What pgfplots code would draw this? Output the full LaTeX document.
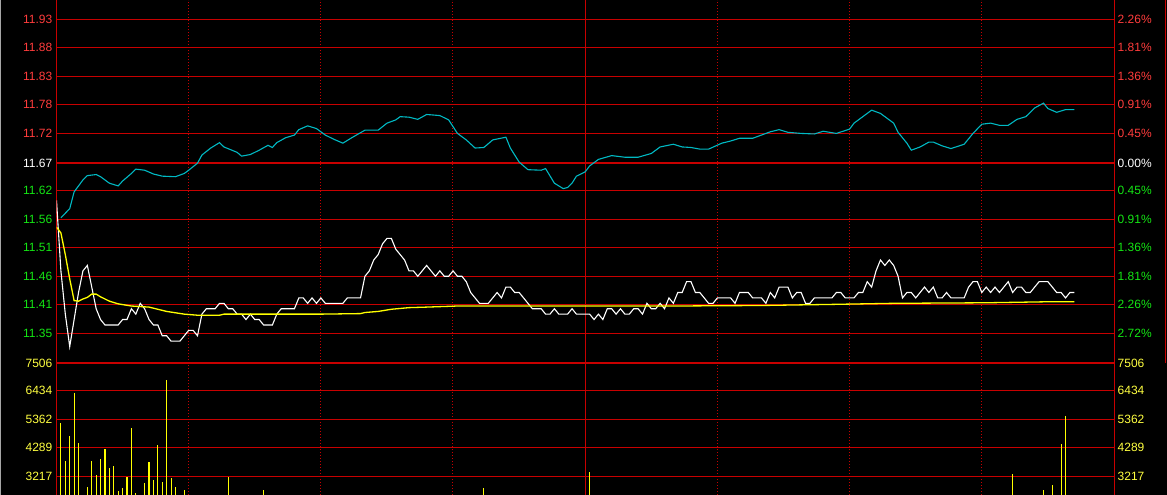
\documentclass[border=0pt]{standalone}
\usepackage{pgfplots}
\pgfplotsset{compat=1.18}
\usepackage{fontspec}
\setmainfont{Liberation Sans}
\definecolor{gridred}{RGB}{200,0,0}
\definecolor{lblred}{RGB}{255,60,60}
\definecolor{lblgreen}{RGB}{20,230,20}
\definecolor{lblyellow}{RGB}{255,255,64}
\definecolor{cyanline}{RGB}{0,185,195}
\definecolor{avgyellow}{RGB}{255,255,0}
\newcommand{\labfont}{\fontsize{12}{14}\selectfont}
% label pair at image pixel row #1
\newcommand{\lbl}[4]{%
 \node[anchor=east,inner sep=0pt,text=#3,font=\labfont] at (52.5pt,{494.5pt-#1pt}) {#2};%
 \node[anchor=west,inner sep=0pt,text=#3,font=\labfont] at (1117.5pt,{494.5pt-#1pt}) {#4};}
% horizontal grid line on image pixel row #1
\newcommand{\hrow}[1]{\draw[gridred,line width=1pt] (56pt,{494.5pt-#1pt}) -- (1115pt,{494.5pt-#1pt});}
% dotted vertical grid line on image pixel column #1
\newcommand{\vdot}[1]{\draw[gridred,line width=1pt,dash pattern=on 1pt off 2pt] ({#1pt+0.5pt},0pt) -- ({#1pt+0.5pt},495pt);}
\pgfplotsset{panel/.style={scale only axis, width=1057.5pt, xmin=0, xmax=240,
  axis line style={draw=none}, xtick=\empty, ytick=\empty}}

\pgfplotstableread{
m p
0 11.60
1 11.47
2 11.39
3 11.33
4 11.38
5 11.43
6 11.47
7 11.48
8 11.44
9 11.40
10 11.38
11 11.37
12 11.37
13 11.37
14 11.37
15 11.38
16 11.38
17 11.40
18 11.39
19 11.41
20 11.40
21 11.38
22 11.37
23 11.37
24 11.35
25 11.35
26 11.34
27 11.34
28 11.34
29 11.35
30 11.36
31 11.36
32 11.35
33 11.39
34 11.40
35 11.40
36 11.40
37 11.41
38 11.41
39 11.40
40 11.40
41 11.39
42 11.39
43 11.38
44 11.39
45 11.38
46 11.38
47 11.37
48 11.37
49 11.37
50 11.39
51 11.40
52 11.40
53 11.40
54 11.40
55 11.42
56 11.42
57 11.41
58 11.42
59 11.41
60 11.42
61 11.41
62 11.41
63 11.41
64 11.41
65 11.41
66 11.42
67 11.42
68 11.42
69 11.42
70 11.46
71 11.47
72 11.49
73 11.50
74 11.52
75 11.53
76 11.53
77 11.51
78 11.50
79 11.49
80 11.47
81 11.47
82 11.46
83 11.47
84 11.48
85 11.47
86 11.46
87 11.47
88 11.46
89 11.46
90 11.47
91 11.46
92 11.46
93 11.45
94 11.43
95 11.42
96 11.41
97 11.41
98 11.41
99 11.42
100 11.43
101 11.42
102 11.44
103 11.44
104 11.43
105 11.43
106 11.42
107 11.41
108 11.40
109 11.40
110 11.40
111 11.39
112 11.39
113 11.40
114 11.39
115 11.39
116 11.39
117 11.40
118 11.39
119 11.39
120 11.39
121 11.39
122 11.38
123 11.39
124 11.38
125 11.40
126 11.40
127 11.39
128 11.40
129 11.39
130 11.39
131 11.40
132 11.40
133 11.39
134 11.41
135 11.40
136 11.40
137 11.41
138 11.40
139 11.42
140 11.41
141 11.43
142 11.43
143 11.45
144 11.45
145 11.43
146 11.43
147 11.42
148 11.41
149 11.41
150 11.42
151 11.42
152 11.42
153 11.42
154 11.41
155 11.43
156 11.43
157 11.43
158 11.42
159 11.42
160 11.42
161 11.41
162 11.43
163 11.42
164 11.44
165 11.44
166 11.44
167 11.42
168 11.43
169 11.43
170 11.41
171 11.41
172 11.42
173 11.42
174 11.42
175 11.42
176 11.42
177 11.43
178 11.43
179 11.42
180 11.42
181 11.42
182 11.43
183 11.43
184 11.45
185 11.44
186 11.47
187 11.49
188 11.48
189 11.49
190 11.48
191 11.46
192 11.42
193 11.43
194 11.43
195 11.42
196 11.43
197 11.44
198 11.43
199 11.44
200 11.42
201 11.42
202 11.43
203 11.42
204 11.42
205 11.42
206 11.42
207 11.44
208 11.45
209 11.45
210 11.43
211 11.44
212 11.43
213 11.44
214 11.43
215 11.44
216 11.45
217 11.43
218 11.44
219 11.44
220 11.43
221 11.43
222 11.44
223 11.45
224 11.45
225 11.45
226 11.44
227 11.43
228 11.43
229 11.42
230 11.43
231 11.43
}\pricetable

\pgfplotstableread{
m p
0 11.551
1 11.540
2 11.500
3 11.455
4 11.415
5 11.414
6 11.418
7 11.421
8 11.427
9 11.427
10 11.422
12 11.414
14 11.409
17 11.405
21 11.403
25 11.395
29 11.390
32 11.388
37 11.388
38 11.390
60 11.390
69 11.391
70 11.393
73 11.395
76 11.399
80 11.402
84 11.403
91 11.405
120 11.405
140 11.405
160 11.406
176 11.408
190 11.410
211 11.411
226 11.413
231 11.413
}\avgtable

\pgfplotstableread{
m p
1 11.568
3 11.585
4 11.616
6 11.638
7 11.646
9 11.648
10 11.644
12 11.632
14 11.627
15 11.636
17 11.650
18 11.658
20 11.656
22 11.649
24 11.645
27 11.644
29 11.650
30 11.656
32 11.669
33 11.684
35 11.697
37 11.707
38 11.699
41 11.689
42 11.682
44 11.685
46 11.693
48 11.702
49 11.698
50 11.707
52 11.716
54 11.721
55 11.731
57 11.738
59 11.733
61 11.721
63 11.713
65 11.706
67 11.716
70 11.730
73 11.730
75 11.743
77 11.749
78 11.755
80 11.754
82 11.750
84 11.759
87 11.757
89 11.749
91 11.724
93 11.712
95 11.697
97 11.698
99 11.712
102 11.717
103 11.697
105 11.671
107 11.657
110 11.656
111 11.659
113 11.632
115 11.622
116 11.624
117 11.632
118 11.645
120 11.653
121 11.664
123 11.676
126 11.683
129 11.680
132 11.680
135 11.687
137 11.699
140 11.704
142 11.699
144 11.698
146 11.695
148 11.695
151 11.706
153 11.710
155 11.715
158 11.715
160 11.721
162 11.727
164 11.731
166 11.726
169 11.724
172 11.723
174 11.728
177 11.724
180 11.732
181 11.743
183 11.755
185 11.767
187 11.761
190 11.743
191 11.726
193 11.706
194 11.693
196 11.699
198 11.708
199 11.708
201 11.701
203 11.696
206 11.704
208 11.724
210 11.741
212 11.743
214 11.739
216 11.739
218 11.750
220 11.755
222 11.771
224 11.780
225 11.770
227 11.763
229 11.768
231 11.768
}\indextable

\pgfplotstableread{
m v
1 5225
2 3800
3 4757
4 6383
5 4469
7 2816
8 3800
9 3270
10 3875
11 4253
12 3535
13 3611
14 2665
15 2767
16 3195
17 5048
18 2589
20 2979
21 3762
22 3081
23 4405
24 3005
25 6863
26 3157
27 2816
29 2722
39 3195
47 2722
97 2767
121 3395
217 3308
224 2722
226 2892
228 4443
229 5502
}\voltable

\begin{document}
\begin{tikzpicture}[x=1pt,y=1pt]
\path[use as bounding box] (0pt,0pt) rectangle (1167pt,495pt);
\clip (0pt,0pt) rectangle (1167pt,495pt);
\fill[black] (0pt,0pt) rectangle (1167pt,495pt);
% frame and grid, on whole pixels
\draw[gray!70,line width=1pt] (0.5pt,0pt) -- (0.5pt,495pt);
\draw[gridred,line width=1pt] (1165.5pt,132pt) -- (1165.5pt,495pt);
\foreach \r in {19,47,76,104,133,190,219,247,276,304,333,390,419,447,476}{\hrow{\r}}
\draw[gridred,line width=2pt] (56pt,332pt) -- (1115pt,332pt);
\draw[gridred,line width=2pt] (56pt,132pt) -- (1115pt,132pt);
\foreach \c in {188,320,452,717,849,981}{\vdot{\c}}
\draw[gridred,line width=1pt] (585.5pt,0pt) -- (585.5pt,495pt);
\draw[gridred,line width=1pt] (56.5pt,0pt) -- (56.5pt,495pt);
\draw[gridred,line width=1pt] (1114.5pt,0pt) -- (1114.5pt,495pt);
% labels
\lbl{19}{11.93}{lblred}{2.26\%}
\lbl{47}{11.88}{lblred}{1.81\%}
\lbl{76}{11.83}{lblred}{1.36\%}
\lbl{104}{11.78}{lblred}{0.91\%}
\lbl{133}{11.72}{lblred}{0.45\%}
\lbl{162.5}{11.67}{white}{0.00\%}
\lbl{190}{11.62}{lblgreen}{0.45\%}
\lbl{219}{11.56}{lblgreen}{0.91\%}
\lbl{247}{11.51}{lblgreen}{1.36\%}
\lbl{276}{11.46}{lblgreen}{1.81\%}
\lbl{304}{11.41}{lblgreen}{2.26\%}
\lbl{333}{11.35}{lblgreen}{2.72\%}
\lbl{362.5}{7506}{lblyellow}{7506}
\lbl{390}{6434}{lblyellow}{6434}
\lbl{419}{5362}{lblyellow}{5362}
\lbl{447}{4289}{lblyellow}{4289}
\lbl{476}{3217}{lblyellow}{3217}
% ---------------- price panel
\begin{axis}[panel, at={(56.5pt,495pt)}, anchor=north west, height=363pt,
  ymin=11.2997, ymax=11.9706]
\addplot[cyanline, line width=1.1pt] table[x=m,y=p] {\indextable};
\addplot[white, line width=1.1pt] table[x=m,y=p] {\pricetable};
\addplot[avgyellow, line width=1.3pt] table[x=m,y=p] {\avgtable};
\end{axis}
% ---------------- volume panel
\begin{axis}[panel, at={(56.5pt,131pt)}, anchor=north west, height=131pt,
  ymin=2514, ymax=7468]
\addplot[ycomb, avgyellow, line width=1.1pt, mark=none] table[x=m,y=v] {\voltable};
\end{axis}
\end{tikzpicture}
\end{document}
